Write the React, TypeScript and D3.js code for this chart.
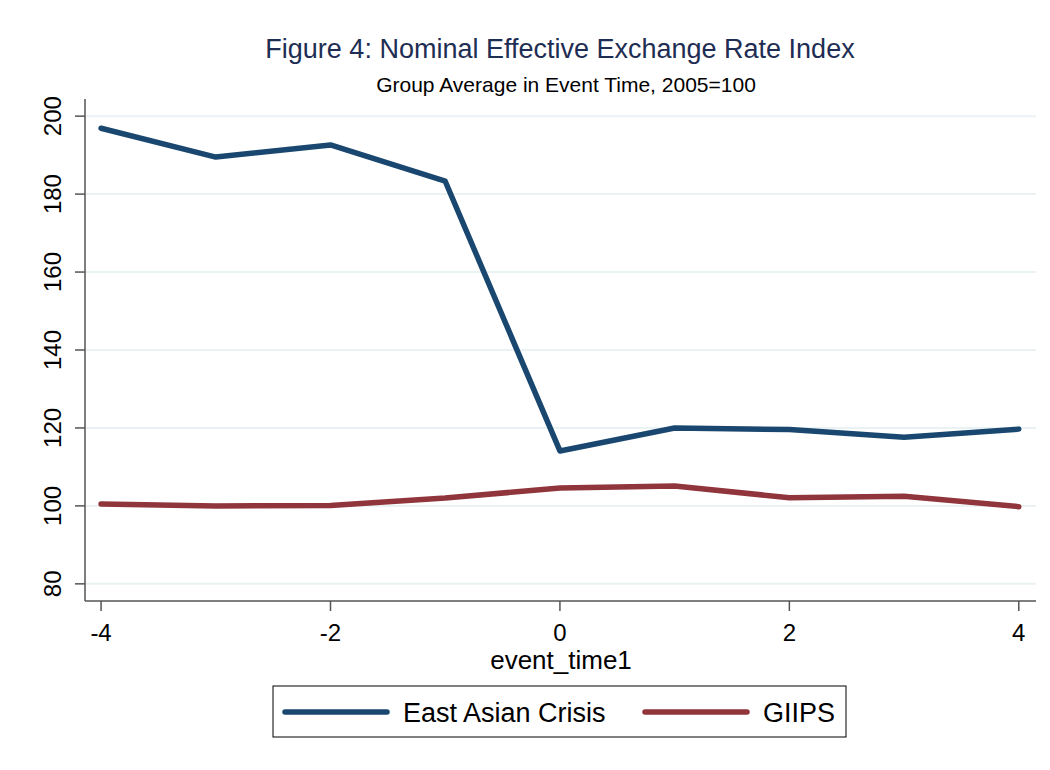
import React from 'react'
import * as d3 from 'd3'

const eventTime = [-4, -3, -2, -1, 0, 1, 2, 3, 4]
const eastAsian = [196.9, 189.5, 192.6, 183.3, 114.1, 120.0, 119.6, 117.6, 119.7]
const giips = [100.5, 100.0, 100.1, 102.0, 104.6, 105.1, 102.1, 102.5, 99.8]
const yTicks = [80, 100, 120, 140, 160, 180, 200]
const xTicks = [-4, -2, 0, 2, 4]

const series = [
  { name: 'East Asian Crisis', values: eastAsian, color: '#1a476f' },
  { name: 'GIIPS', values: giips, color: '#90353b' }
]

const W = 1050
const H = 770
const font = 'Arial, "Liberation Sans", Helvetica, sans-serif'

const App = () => {
  const left = 85, right = 1036, top = 99, bottom = 601

  const x = d3.scaleLinear().domain([-4.14, 4.15]).range([left, right])
  const y = d3.scaleLinear().domain([75.6, 204.4]).range([bottom, top])

  const line = d3.line<number>()
      .x((d, i) => x(eventTime[i]))
      .y(d => y(d))

  // legend entries: line start, text start
  const legendPos = [{ lx: 285, tx: 403 }, { lx: 645, tx: 763 }]

  return (
      <svg width={W} height={H} style={{ position: 'absolute', left: 0, top: 0, fontFamily: font }}>
        <rect width={W} height={H} fill="#ffffff" />

        {/* titles */}
        <text x={560} y={58} textAnchor="middle" fontSize={27} fill="#1e2d53">
          Figure 4: Nominal Effective Exchange Rate Index
        </text>
        <text x={566} y={92} textAnchor="middle" fontSize={21} fill="#000">
          Group Average in Event Time, 2005=100
        </text>

        {/* grid */}
        {yTicks.map(t => (
            <line key={'g' + t} x1={left} x2={right} y1={y(t)} y2={y(t)}
                  stroke="#eaf2f3" strokeWidth={2} />
        ))}

        {/* axes */}
        <line x1={left} x2={left} y1={top} y2={bottom} stroke="#555" strokeWidth={1.5} />
        <line x1={left} x2={right} y1={bottom} y2={bottom} stroke="#555" strokeWidth={1.5} />

        {yTicks.map(t => (
            <g key={'y' + t}>
              <line x1={left - 10} x2={left} y1={y(t)} y2={y(t)} stroke="#555" strokeWidth={1.5} />
              <text transform={`translate(${left - 24},${y(t)}) rotate(-90)`}
                    textAnchor="middle" fontSize={24} fill="#000">{t}</text>
            </g>
        ))}

        {xTicks.map(t => (
            <g key={'x' + t}>
              <line x1={x(t)} x2={x(t)} y1={bottom} y2={bottom + 10} stroke="#555" strokeWidth={1.5} />
              <text x={x(t)} y={bottom + 40} textAnchor="middle" fontSize={24} fill="#000">{t}</text>
            </g>
        ))}

        <text x={561} y={669} textAnchor="middle" fontSize={26} fill="#000">event_time1</text>

        {/* lines */}
        {series.map(s => (
            <path key={s.name} d={line(s.values) || ''} fill="none" stroke={s.color}
                  strokeWidth={5.5} strokeLinejoin="round" strokeLinecap="round" />
        ))}

        {/* legend */}
        <rect x={273} y={686} width={573} height={51} fill="#fff" stroke="#000" strokeWidth={1} />
        {series.map((s, i) => (
            <g key={'l' + s.name}>
              <line x1={legendPos[i].lx} x2={legendPos[i].lx + 102} y1={712} y2={712} stroke={s.color}
                    strokeWidth={5.5} strokeLinecap="round" />
              <text x={legendPos[i].tx} y={722} fontSize={27} fill="#000">{s.name}</text>
            </g>
        ))}
      </svg>
  )
}

export default App
